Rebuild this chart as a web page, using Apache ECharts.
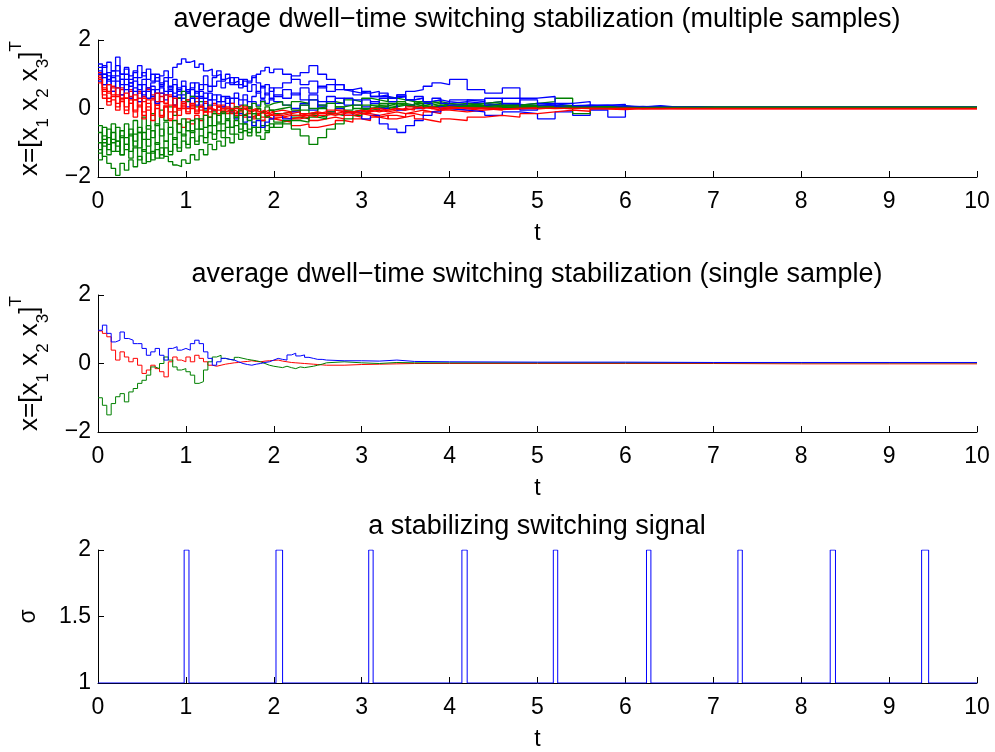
<!DOCTYPE html>
<html>
<head>
    <meta charset="utf-8">
    <title>average dwell-time switching stabilization</title>
    <script src="https://cdn.jsdelivr.net/npm/echarts@6/dist/echarts.min.js"></script>
</head>
<body style="margin:0">
    <div id="chart" style="width: 995px; height: 752px;"></div>

    <script>
        // time grid of the multi-sample plot
        const tMulti = [
            0,0.05,0.1,0.15,0.2,0.25,0.3,0.35,0.4,0.45,0.5,0.55,0.6,0.65,0.7,0.75,0.8,0.85,0.9,0.95,
            1,1.05,1.1,1.15,1.2,1.25,1.3,1.35,1.4,1.45,1.5,1.55,1.6,1.65,1.7,1.75,1.8,1.85,1.9,1.95,2,
            2.1,2.2,2.3,2.4,2.5,2.6,2.7,2.8,2.9,3,3.1,3.2,3.3,3.4,3.5,3.6,3.7,3.8,3.9,4,
            4.2,4.4,4.6,4.8,5,5.2,5.4,5.6,5.8,6,6.2,6.4,6.6,6.8,7,
            10
        ];

        // x1 samples (blue)
        const blueSamples = [
            [1.30,1.20,1.35,1.10,1.25,1.00,1.15,0.95,1.10,0.90,1.05,0.85,1.00,0.80,0.95,1.10,0.90,1.20,1.30,1.45,1.35,1.40,1.20,1.30,1.10,1.15,0.95,1.00,0.85,0.90,0.75,0.80,0.70,0.85,0.75,0.90,1.00,1.10,1.20,1.05,1.15,
             1.00,0.85,0.70,0.80,0.60,0.70,0.55,0.50,0.45,0.50,0.35,0.40,0.30,0.35,0.25,0.30,0.20,0.25,0.20,0.15,
             0.15,0.20,0.10,0.15,0.10,0.08,0.10,0.06,0.08,0.05,0.06,0.04,0.05,0.04,0.03, 0.03],
            [0.90,1.00,0.80,0.95,1.10,0.85,1.00,0.75,0.90,0.70,0.85,0.60,0.75,0.90,0.65,0.80,0.55,0.70,0.50,0.65,0.45,0.60,0.75,0.55,0.70,0.50,0.65,0.80,0.60,0.75,0.90,0.70,0.85,0.65,0.80,0.95,0.75,0.60,0.70,0.50,0.60,
             0.75,0.95,1.05,1.25,1.00,0.85,0.70,0.55,0.60,0.45,0.50,0.35,0.30,0.40,0.25,0.30,0.20,0.25,0.15,0.20,
             0.15,0.10,0.12,0.08,0.10,0.06,0.08,0.05,0.06,0.04,0.05,0.03,0.04,0.03,0.03, 0.03],
            [1.10,0.90,1.05,0.80,0.95,0.70,0.85,0.65,0.80,0.55,0.70,0.50,0.65,0.45,0.60,0.40,0.55,0.35,0.50,0.30,0.45,0.55,0.35,0.50,0.30,0.45,0.25,0.40,0.20,0.35,0.15,0.30,0.10,0.25,0.05,0.20,0.10,0.25,0.15,0.30,0.20,
             0.10,0.00,0.15,-0.05,0.10,-0.10,0.00,-0.20,-0.10,-0.30,-0.20,-0.45,-0.60,-0.70,-0.50,-0.35,-0.20,-0.10,0.00,-0.05,
             -0.10,-0.20,-0.10,-0.15,-0.30,-0.10,-0.20,-0.05,-0.25,0.02,0.03,0.02,0.03,0.02,0.02, 0.02],
            [0.80,1.00,0.70,0.90,0.60,0.85,0.55,0.75,0.50,0.70,0.40,0.60,0.35,0.55,0.75,0.50,0.65,0.45,0.60,0.40,0.55,0.35,0.50,0.30,0.45,0.25,0.40,0.20,0.35,0.15,0.30,0.45,0.25,0.40,0.20,0.35,0.50,0.30,0.45,0.25,0.40,
             0.30,0.45,0.25,0.40,0.20,0.35,0.15,0.30,0.10,0.25,0.15,0.30,0.20,0.35,0.50,0.55,0.65,0.75,0.70,0.85,
             0.55,0.45,0.60,0.30,0.35,0.15,0.20,0.10,0.12,0.05,0.08,0.04,0.05,0.03,0.03, 0.03],
            [1.20,0.70,0.95,0.50,0.80,0.40,0.70,0.30,0.60,0.20,0.50,0.30,0.55,0.15,0.45,0.25,0.50,0.10,0.40,0.20,0.05,0.30,0.10,0.35,0.00,0.25,-0.05,0.20,0.05,0.30,-0.10,-0.30,-0.15,-0.40,-0.25,-0.50,-0.35,-0.55,-0.40,-0.30,-0.20,
             -0.30,-0.10,0.10,0.25,0.05,0.20,0.30,0.10,0.25,0.05,0.20,0.00,0.15,-0.05,0.10,0.00,0.15,0.05,0.10,0.10,
             0.25,0.10,0.30,-0.05,0.15,0.05,0.10,0.00,0.05,0.02,0.04,0.02,0.03,0.02,0.02, 0.02],
            [1.00,1.25,0.85,1.10,1.50,1.00,1.20,0.85,1.05,1.25,0.95,1.15,0.80,1.00,0.70,0.90,0.60,0.85,0.55,0.80,0.50,0.75,0.45,0.70,0.95,0.65,0.90,1.10,0.80,1.00,0.70,0.90,0.60,0.80,0.50,0.70,0.45,0.65,0.40,0.60,0.35,
             0.55,0.40,0.60,0.45,0.65,0.50,0.70,0.55,0.40,0.50,0.35,0.45,0.30,0.40,0.25,0.35,0.20,0.30,0.15,0.25,
             0.20,0.30,0.15,0.25,0.10,0.15,0.08,0.10,0.05,0.06,0.04,0.04,0.03,0.03,0.03, 0.03]
        ];

        // x2 samples (red)
        const redSamples = [
            [1.00,0.60,0.45,0.60,0.35,0.55,0.30,0.50,0.25,0.45,0.20,0.55,0.30,0.10,0.35,0.15,0.40,0.10,0.30,0.05,0.25,0.00,0.20,-0.05,0.15,-0.10,0.10,-0.15,0.05,-0.10,0.00,-0.15,-0.05,-0.20,-0.10,-0.25,-0.15,-0.10,-0.20,-0.15,-0.25,
             -0.20,-0.30,-0.25,-0.35,-0.30,-0.25,-0.30,-0.20,-0.25,-0.15,-0.20,-0.15,-0.10,-0.15,-0.10,-0.05,-0.10,-0.05,0.00,-0.05,
             0.00,-0.05,0.02,0.00,0.02,0.01,0.02,0.01,0.02,0.01,0.01,0.01,0.01,0.01,0.01, 0.01],
            [0.95,0.40,0.20,0.35,0.05,0.30,-0.05,0.25,-0.10,0.20,-0.20,0.15,-0.15,0.10,-0.25,0.05,-0.35,-0.10,-0.45,-0.55,-0.30,-0.45,-0.20,-0.35,-0.10,-0.25,-0.05,-0.20,0.00,-0.15,-0.05,-0.20,-0.10,-0.25,-0.15,-0.30,-0.20,-0.35,-0.25,-0.30,-0.35,
             -0.40,-0.50,-0.45,-0.55,-0.50,-0.45,-0.35,-0.40,-0.30,-0.35,-0.25,-0.30,-0.20,-0.25,-0.15,-0.20,-0.10,-0.15,-0.05,-0.10,
             -0.05,0.00,-0.02,0.00,0.01,0.00,0.01,0.01,0.01,0.00,0.01,0.00,0.00,0.00,0.00, 0.00],
            [0.90,0.70,0.50,0.65,0.40,0.60,0.30,0.55,0.25,0.50,0.35,0.60,0.40,0.20,0.45,0.15,0.35,0.05,0.30,0.00,0.25,0.10,0.30,0.05,0.20,0.00,0.15,-0.05,0.10,0.00,0.15,0.05,0.10,0.00,0.05,-0.05,0.00,-0.10,-0.05,-0.10,-0.05,
             -0.10,-0.05,-0.15,-0.10,-0.20,-0.15,-0.10,-0.20,-0.15,-0.10,-0.05,-0.10,-0.05,0.00,-0.05,0.05,0.00,0.05,0.00,0.05,
             0.05,0.00,0.08,0.02,0.05,0.02,0.04,0.02,0.03,0.02,0.02,0.02,0.02,0.02,0.02, 0.02],
            [1.05,0.55,0.30,0.50,0.15,0.40,0.05,0.35,-0.05,0.30,-0.10,0.25,-0.20,0.20,-0.25,0.10,-0.30,0.05,-0.20,0.10,-0.15,0.05,-0.10,0.10,-0.20,0.00,-0.15,0.05,-0.10,-0.05,-0.15,-0.10,-0.20,-0.15,-0.25,-0.20,-0.15,-0.25,-0.20,-0.30,-0.25,
             -0.30,-0.25,-0.20,-0.25,-0.15,-0.20,-0.15,-0.10,-0.15,-0.20,-0.25,-0.20,-0.30,-0.25,-0.20,-0.30,-0.35,-0.40,-0.30,-0.35,
             -0.25,-0.20,-0.25,-0.15,-0.10,-0.05,-0.08,-0.02,-0.03,0.00,-0.01,0.00,0.00,0.00,0.00, 0.00],
            [0.85,0.30,0.10,0.25,-0.05,0.20,-0.15,0.15,-0.25,0.10,-0.30,0.05,-0.35,0.00,-0.20,0.05,-0.10,0.10,-0.05,0.15,0.00,0.10,-0.05,0.05,-0.10,0.00,-0.05,0.05,-0.10,0.00,-0.05,-0.10,0.00,-0.05,-0.10,-0.05,-0.10,-0.15,-0.10,-0.20,-0.15,
             -0.10,-0.20,-0.15,-0.10,-0.15,-0.05,-0.10,-0.15,-0.10,-0.05,-0.10,-0.05,0.00,-0.05,0.00,0.05,0.00,-0.05,0.00,0.02,
             0.00,-0.03,0.00,0.02,0.00,0.01,0.00,0.01,0.00,0.00,0.00,0.00,0.00,0.00,0.00, 0.00],
            [0.75,0.50,0.70,0.40,0.60,0.25,0.45,0.15,0.40,0.05,0.30,-0.05,0.25,0.45,0.20,0.40,0.10,0.30,0.00,0.20,-0.10,0.15,-0.15,0.05,-0.10,0.05,-0.05,0.10,-0.05,0.05,-0.10,0.00,-0.05,0.05,-0.05,0.00,-0.10,-0.05,-0.15,-0.10,-0.20,
             -0.15,-0.10,-0.20,-0.15,-0.10,-0.15,-0.05,-0.10,-0.05,-0.10,0.00,-0.05,0.00,-0.05,0.05,0.00,0.05,0.00,0.05,0.00,
             0.02,-0.02,0.01,0.00,0.01,0.00,0.01,0.00,0.01,0.00,0.00,0.00,0.00,0.00,0.00, 0.00]
        ];

        // x3 samples (green)
        const greenSamples = [
            [-1.00,-1.40,-1.60,-1.75,-1.95,-1.60,-1.80,-1.50,-1.70,-1.40,-1.60,-1.30,-1.50,-1.20,-1.45,-1.15,-1.35,-1.05,-1.25,-0.95,-1.15,-0.85,-1.05,-0.80,-1.00,-0.70,-0.90,-0.65,-0.85,-0.55,-0.75,-0.50,-0.70,-0.45,-0.60,-0.40,-0.55,-0.35,-0.50,-0.30,-0.40,
             -0.35,-0.25,-0.30,-0.20,-0.25,-0.15,-0.20,-0.10,-0.05,0.00,0.05,0.00,0.05,0.10,0.05,0.10,0.05,0.08,0.05,0.05,
             0.05,0.03,0.05,0.03,0.04,0.03,0.03,0.03,0.03,0.03,0.03,0.03,0.03,0.03,0.03, 0.03],
            [-0.70,-1.10,-0.85,-1.25,-0.95,-1.35,-1.05,-1.45,-1.15,-1.50,-1.20,-1.55,-1.25,-1.45,-1.15,-1.40,-1.55,-1.65,-1.70,-1.50,-1.60,-1.35,-1.50,-1.20,-1.35,-1.05,-1.20,-0.95,-1.10,-0.85,-1.00,-0.75,-0.90,-0.65,-0.80,-0.55,-0.70,-0.50,-0.65,-0.45,-0.55,
             -0.45,-0.35,-0.40,-0.25,-0.30,-0.15,-0.20,-0.10,-0.05,0.00,-0.05,0.05,0.00,0.10,0.05,0.15,0.10,0.15,0.10,0.10,
             0.08,0.10,0.05,0.08,0.05,0.04,0.05,0.04,0.04,0.03,0.04,0.03,0.03,0.03,0.03, 0.03],
            [-1.30,-0.80,-1.20,-0.70,-1.10,-0.65,-1.05,-0.60,-0.95,-0.55,-0.90,-0.50,-0.85,-0.45,-0.80,-0.40,-0.75,-0.35,-0.70,-0.30,-0.65,-0.35,-0.60,-0.30,-0.55,-0.25,-0.50,-0.20,-0.45,-0.30,-0.55,-0.35,-0.60,-0.45,-0.70,-0.55,-0.80,-0.90,-0.70,-0.55,-0.45,
             -0.35,-0.60,-0.80,-1.05,-0.85,-0.60,-0.45,-0.30,-0.20,-0.10,0.00,0.10,0.05,0.15,0.10,0.20,0.15,0.20,0.15,0.10,
             0.15,0.20,0.10,0.15,0.20,0.30,-0.15,0.05,0.06,0.04,0.05,0.04,0.04,0.04,0.04, 0.04],
            [-0.50,-0.90,-0.60,-1.00,-0.55,-0.85,-0.45,-0.80,-0.35,-0.70,-0.25,-0.60,-0.15,-0.50,-0.05,-0.35,0.05,-0.20,0.30,0.50,0.20,0.35,0.05,0.20,-0.05,0.10,-0.10,0.05,-0.15,0.00,-0.10,0.05,-0.05,0.10,0.00,0.15,0.05,0.20,0.10,0.15,0.20,
             0.10,0.20,0.15,0.25,0.10,0.20,0.15,0.25,0.20,0.30,0.25,0.20,0.30,0.25,0.20,0.15,0.20,0.15,0.10,0.15,
             0.10,0.15,0.08,0.10,0.06,0.08,0.05,0.06,0.04,0.05,0.04,0.04,0.04,0.04,0.04, 0.04],
            [-1.50,-1.00,-1.35,-0.90,-1.25,-0.80,-1.20,-0.75,-1.10,-0.70,-1.25,-0.90,-1.30,-1.00,-1.35,-0.95,-1.25,-0.85,-1.15,-0.75,-1.05,-0.65,-0.95,-0.60,-0.85,-0.50,-0.75,-0.45,-0.65,-0.35,-0.55,-0.25,-0.45,-0.20,-0.35,-0.15,-0.30,-0.10,-0.25,-0.05,-0.15,
             -0.10,-0.20,-0.05,-0.15,0.00,-0.10,0.05,-0.05,0.10,0.00,0.10,0.05,0.15,0.10,0.05,0.10,0.05,0.10,0.05,0.05,
             0.03,0.06,0.02,0.05,0.02,0.04,0.02,0.03,0.02,0.03,0.02,0.02,0.02,0.02,0.02, 0.02],
            [-1.20,-0.55,-1.05,-0.45,-0.95,-1.35,-0.85,-1.25,-0.75,-1.15,-0.70,-1.10,-0.65,-1.05,-0.60,-0.95,-0.55,-0.90,-0.45,-0.80,-0.40,-0.70,-0.30,-0.60,-0.20,-0.50,-0.15,-0.40,-0.10,-0.30,-0.05,-0.25,0.00,-0.20,0.05,-0.15,0.00,-0.10,0.05,-0.05,0.00,
             0.05,-0.05,0.10,0.00,0.05,0.15,0.05,0.10,0.00,0.10,0.05,0.15,0.10,0.20,0.10,0.15,0.05,0.10,0.05,0.08,
             0.05,0.10,0.03,0.08,0.02,0.05,0.03,0.04,0.03,0.03,0.03,0.03,0.03,0.03,0.03, 0.03]
        ];

        // single sample
        const tSingle = [
            0,0.05,0.1,0.15,0.2,0.25,0.3,0.35,0.4,0.45,0.5,0.55,0.6,0.65,0.7,0.75,0.8,0.85,0.9,0.95,
            1,1.05,1.1,1.15,1.2,1.25,1.3,1.35,1.4,1.45,1.5,1.55,1.6,1.65,1.7,1.75,1.8,1.85,1.9,1.95,
            2,2.05,2.1,2.15,2.2,2.25,2.3,2.35,2.4,2.45,2.5,2.55,2.6,
            2.8,3,3.2,3.4,3.6,4,5,6,7,8,9,10
        ];
        const x1Single = [0.97,1.12,0.88,0.63,0.68,0.92,0.73,0.68,0.58,0.58,0.44,0.24,0.34,0.44,0.24,0.10,0.44,0.49,0.39,0.44,
            0.39,0.58,0.68,0.58,0.34,0.15,-0.05,0.05,0.15,0.12,0.10,0.05,0.00,-0.03,-0.05,-0.02,0.00,0.03,0.05,0.10,
            0.15,0.12,0.10,0.25,0.30,0.22,0.25,0.18,0.15,0.12,0.12,0.10,0.08,
            0.08,0.07,0.10,0.06,0.05,0.04,0.04,0.03,0.03,0.03,0.03,0.03];
        const x2Single = [0.95,0.88,0.78,0.39,0.10,0.34,0.19,0.05,0.15,-0.05,-0.29,-0.19,-0.05,-0.15,-0.24,-0.39,0.05,0.19,0.10,0.05,
            0.19,0.05,0.24,0.15,0.05,-0.05,-0.08,-0.05,-0.02,0.00,0.02,0.03,0.05,0.06,0.08,0.06,0.05,0.07,0.08,0.09,
            0.10,0.07,0.05,0.03,0.02,0.01,0.00,-0.01,-0.02,-0.03,-0.04,-0.05,-0.05,
            -0.03,-0.02,-0.01,0.00,0.00,0.00,0.00,0.00,-0.01,-0.01,-0.01,-0.01];
        const x3Single = [-1.00,-1.22,-1.50,-1.17,-0.97,-0.88,-1.12,-0.83,-0.73,-0.58,-0.49,-0.34,-0.10,-0.15,0.00,0.19,0.10,-0.10,-0.19,-0.15,
            -0.24,-0.34,-0.58,-0.53,-0.19,0.05,0.19,0.24,0.15,0.12,0.10,0.18,0.15,0.12,0.10,0.08,0.05,0.00,-0.05,-0.08,
            -0.10,-0.12,-0.08,-0.12,-0.15,-0.10,-0.12,-0.10,-0.08,-0.05,-0.02,0.02,0.05,
            0.02,0.00,0.03,0.02,0.02,0.02,0.02,0.02,0.02,0.02,0.02,0.02];

        // switching signal: sigma jumps to 2 at onTimes and back to 1 at offTimes
        const onTimes  = [0.98, 2.025, 3.08, 4.14, 5.18, 6.24, 7.28, 8.33, 9.37];
        const offTimes = [1.035, 2.10, 3.13, 4.20, 5.23, 6.29, 7.33, 8.39, 9.45];

        const xTicks = ['0','1','2','3','4','5','6','7','8','9','10'];

        const BLUE = '#0000ff', RED = '#ff0000', GREEN = '#008000';
        const FONT = 'Liberation Sans, Arial, sans-serif';

        function zip(ts, vs) { return ts.map((t, i) => [t, vs[i]]); }

        const sigData = [[0, 1]];
        onTimes.forEach((on, i) => {
            sigData.push([on, 1], [on, 2], [offTimes[i], 2], [offTimes[i], 1]);
        });
        sigData.push([10, 1]);

        const grids = [
            { left: 98, right: 18, top: 40, height: 137 },
            { left: 98, right: 18, top: 295, height: 137 },
            { left: 98, right: 18, top: 550, height: 136 }
        ];

        const xAxes = grids.map((g, i) => ({
            type: 'value', gridIndex: i, min: 0, max: 10, interval: 1,
            name: 't', nameLocation: 'middle', nameGap: 45,
            nameTextStyle: { fontSize: 23, color: '#000', fontFamily: FONT },
            axisLine: { show: true, onZero: false, lineStyle: { color: '#000', width: 1 } },
            axisTick: { show: true, inside: true, length: 6, lineStyle: { color: '#000' } },
            axisLabel: { fontSize: 23, color: '#000', fontFamily: FONT, margin: 13,
                formatter: v => xTicks[Math.round(v)] },
            splitLine: { show: false }
        }));

        // y label x=[x1 x2 x3]^T with sub/superscripts
        const xName = {
            rich: {
                m: { fontSize: 26, lineHeight: 44, fontFamily: FONT, color: '#000' },
                s: { fontSize: 17, lineHeight: 30, fontFamily: FONT, color: '#000', verticalAlign: 'bottom' },
                p: { fontSize: 17, lineHeight: 17, fontFamily: FONT, color: '#000', verticalAlign: 'top' }
            }
        };
        const xNameText = '{m|x=[x}{s|1}{m| x}{s|2}{m| x}{s|3}{m|]}{p|T}';

        const yCommon = {
            type: 'value', nameLocation: 'middle', nameRotate: 90,
            axisLine: { show: true, lineStyle: { color: '#000', width: 1 } },
            axisTick: { show: true, inside: true, length: 6, lineStyle: { color: '#000' } },
            axisLabel: { fontSize: 23, color: '#000', fontFamily: FONT, margin: 7,
                formatter: v => String(v).replace('-', '\u2212') },
            splitLine: { show: false }
        };

        const yAxes = [
            Object.assign({}, yCommon, { gridIndex: 0, min: -2, max: 2, interval: 2,
                name: xNameText, nameGap: 46, nameTextStyle: xName }),
            Object.assign({}, yCommon, { gridIndex: 1, min: -2, max: 2, interval: 2,
                name: xNameText, nameGap: 46, nameTextStyle: xName }),
            Object.assign({}, yCommon, { gridIndex: 2, min: 1, max: 2, interval: 0.5,
                name: 'σ', nameGap: 58,
                nameTextStyle: { fontSize: 23, color: '#000', fontFamily: FONT } })
        ];

        function line(name, data, color, idx, step, width) {
            return {
                name: name, type: 'line', xAxisIndex: idx, yAxisIndex: idx,
                data: data, step: step, symbol: 'none', silent: true,
                lineStyle: { color: color, width: width }, itemStyle: { color: color }
            };
        }

        const series = [];
        for (let k = 0; k < blueSamples.length; k++) {
            series.push(line('x1', zip(tMulti, blueSamples[k]), BLUE, 0, 'end', 1.3));
            series.push(line('x3', zip(tMulti, greenSamples[k]), GREEN, 0, 'end', 1.3));
            series.push(line('x2', zip(tMulti, redSamples[k]), RED, 0, 'end', 1.3));
        }
        series.push(line('x2', zip(tSingle, x2Single), RED, 1, 'end', 1));
        series.push(line('x3', zip(tSingle, x3Single), GREEN, 1, 'end', 1));
        series.push(line('x1', zip(tSingle, x1Single), BLUE, 1, 'end', 1));
        series.push(line('sigma', sigData, BLUE, 2, false, 1));

        const titleStyle = { fontSize: 27, fontWeight: 'normal', color: '#000', fontFamily: FONT };
        const option = {
            animation: false,
            backgroundColor: '#fff',
            title: [
                { text: 'average dwell\u2212time switching stabilization (multiple samples)', left: 532, top: 1, textAlign: 'center', textStyle: titleStyle },
                { text: 'average dwell\u2212time switching stabilization (single sample)', left: 532, top: 256, textAlign: 'center', textStyle: titleStyle },
                { text: 'a stabilizing switching signal', left: 532, top: 508, textAlign: 'center', textStyle: titleStyle }
            ],
            grid: grids,
            xAxis: xAxes,
            yAxis: yAxes,
            series: series
        };

        const chart = echarts.init(document.getElementById('chart'));
        chart.setOption(option);
    </script>
</body>
</html>
